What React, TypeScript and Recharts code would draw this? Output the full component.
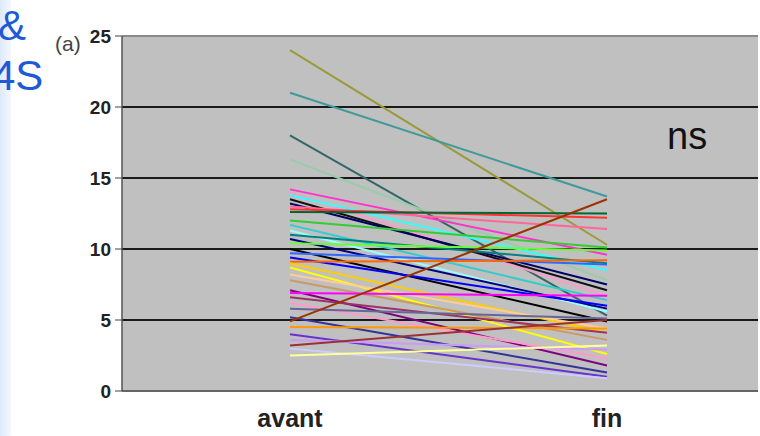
import {
  LineChart,
  Line,
  XAxis,
  YAxis,
  CartesianGrid,
  ReferenceLine,
} from "recharts";

const categories = ["avant", "fin"];

// one entry per subject: value before (avant) and at the end (fin)
const avantValues = [
  24, 21, 18, 16.3, 14.2, 14, 13.8, 13.5, 13.2, 13.0, 12.8, 12.6, 12.0, 11.7,
  11.3, 11.0, 10.7, 10.4, 10.0, 9.7, 9.4, 9.1, 9.0, 8.7, 8.2, 7.8, 7.1, 6.9,
  6.6, 6.2, 5.8, 5.2, 4.9, 4.5, 4.0, 3.6, 3.2, 3.0, 2.5,
];
const finValues = [
  10.3, 13.7, 5.3, 7.8, 9.6, 6.7, 8.5, 7.1, 7.5, 11.4, 12.2, 12.5, 10.1, 6.4,
  5.6, 9.0, 5.8, 9.9, 4.9, 8.9, 6.0, 9.2, 4.1, 2.6, 4.4, 3.6, 1.8, 6.7, 4.1,
  2.3, 5.1, 1.3, 13.5, 4.4, 1.0, 2.9, 5.0, 0.9, 3.2,
];
const lineColors = [
  "#9a9a3a", "#3f9a9a", "#336666", "#99ccaa", "#ff33cc", "#ff99cc", "#33ffff",
  "#111111", "#000066", "#ff6699", "#ff3333", "#006633", "#33cc33", "#33cccc",
  "#99ffff", "#008080", "#000080", "#66ff33", "#000000", "#3366ff", "#0000ff",
  "#ff6600", "#ffcc00", "#ffff00", "#ffcc99", "#cc9966", "#800080", "#ff00ff",
  "#993366", "#ff99cc", "#666699", "#333399", "#993300", "#ff9900", "#6633cc",
  "#cc99ff", "#993333", "#ccccff", "#ffff99",
];

const yTicks = [0, 5, 10, 15, 20, 25];
const gridValues = [5, 10, 15, 20];

const data = categories.map((name, ci) => {
  const row: Record<string, string | number> = { name };
  avantValues.forEach((v, i) => {
    row[`s${i}`] = ci === 0 ? v : finValues[i];
  });
  return row;
});

const font = "'Liberation Sans', Arial, sans-serif";

function XTick({ x, y, payload }: any) {
  return (
    <text
      x={x}
      y={y + 28}
      textAnchor="middle"
      fontSize={25}
      fontWeight={700}
      fill="#222"
      fontFamily={font}
    >
      {payload.value}
    </text>
  );
}

export default function App() {
  return (
    <div
      style={{
        position: "absolute",
        left: 0,
        top: 0,
        width: 760,
        height: 436,
        background: "#fff",
        overflow: "hidden",
        fontFamily: font,
      }}
    >
      {/* light blue strip on the left */}
      <div
        style={{
          position: "absolute",
          left: 0,
          top: 0,
          width: 11,
          height: 436,
          background: "linear-gradient(to right, #dde9fb, #f4f8fe)",
        }}
      />
      <div
        style={{
          position: "absolute",
          left: -2,
          top: 2,
          fontSize: 42,
          color: "#1f5ad6",
          lineHeight: "48px",
        }}
      >
        &amp;
      </div>
      <div
        style={{
          position: "absolute",
          left: -8,
          top: 52,
          fontSize: 42,
          color: "#1f5ad6",
          lineHeight: "48px",
        }}
      >
        4S
      </div>
      <div
        style={{
          position: "absolute",
          left: 55,
          top: 31,
          fontSize: 21,
          color: "#444",
          lineHeight: "26px",
        }}
      >
        (a)
      </div>

      <LineChart
        width={760}
        height={436}
        data={data}
        margin={{ top: 36, right: 2, bottom: 15, left: 0 }}
      >
        <CartesianGrid
          vertical={false}
          horizontalValues={gridValues}
          stroke="#1a1a1a"
          strokeWidth={2}
          fill="#c0c0c0"
        />
        <ReferenceLine y={25} stroke="#8a8a8a" strokeWidth={2} />
        <XAxis
          dataKey="name"
          height={30}
          padding={{ left: 168, right: 151 }}
          tickLine={false}
          tick={<XTick />}
          axisLine={{ stroke: "#666", strokeWidth: 2 }}
        />
        <YAxis
          width={122}
          domain={[0, 25]}
          ticks={yTicks}
          interval={0}
          tickSize={7}
          tickMargin={4}
          tick={{ fontSize: 19, fontWeight: 700, fill: "#222", fontFamily: font }}
          tickLine={{ stroke: "#444" }}
          axisLine={{ stroke: "#555", strokeWidth: 1.5 }}
        />
        {avantValues.map((_, i) => (
          <Line
            key={i}
            type="linear"
            dataKey={`s${i}`}
            stroke={lineColors[i]}
            strokeWidth={2}
            dot={false}
            isAnimationActive={false}
          />
        ))}
      </LineChart>

      <div
        style={{
          position: "absolute",
          left: 667,
          top: 114,
          fontSize: 38,
          color: "#111",
          lineHeight: "44px",
        }}
      >
        ns
      </div>
    </div>
  );
}
